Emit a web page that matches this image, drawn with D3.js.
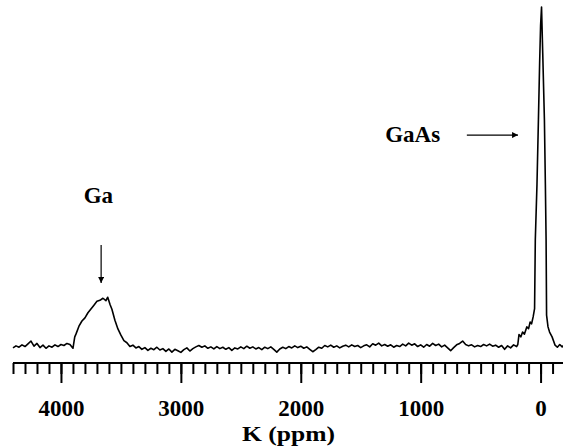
<!DOCTYPE html>
<html>
<head>
<meta charset="utf-8">
<script src="https://cdn.jsdelivr.net/npm/d3@7"></script>
<style>
  body { margin: 0; background: #fff; }
  text { font-family: "Liberation Serif", "Times New Roman", serif; font-weight: bold; fill: #000; }
</style>
</head>
<body>
<svg id="chart" width="563" height="448"></svg>
<script>
// chemical shift (ppm) and intensity
const shiftPpm = [
  4400, 4375, 4350, 4325, 4300, 4275, 4250, 4225, 4200, 4175,
  4150, 4125, 4100, 4075, 4050, 4025, 4000, 3975, 3950, 3925,
  3900, 3885, 3875, 3850, 3825, 3800, 3775, 3750, 3725, 3700,
  3675, 3650, 3625, 3610, 3590, 3575, 3550, 3525, 3500, 3475,
  3450, 3425, 3400, 3375, 3350, 3325, 3300, 3275, 3250, 3225,
  3200, 3175, 3150, 3125, 3100, 3075, 3050, 3025, 3000, 2975,
  2950, 2925, 2900, 2875, 2850, 2825, 2800, 2775, 2750, 2725,
  2700, 2675, 2650, 2625, 2600, 2575, 2550, 2525, 2500, 2475,
  2450, 2425, 2400, 2375, 2350, 2325, 2300, 2275, 2250, 2225,
  2200, 2175, 2150, 2125, 2100, 2075, 2050, 2025, 2000, 1975,
  1950, 1925, 1900, 1875, 1850, 1825, 1800, 1775, 1750, 1725,
  1700, 1675, 1650, 1625, 1600, 1575, 1550, 1525, 1500, 1475,
  1450, 1425, 1400, 1375, 1350, 1325, 1300, 1275, 1250, 1225,
  1200, 1175, 1150, 1125, 1100, 1075, 1050, 1025, 1000, 975,
  950, 925, 900, 875, 850, 825, 800, 775, 750, 725,
  700, 675, 650, 625, 600, 575, 550, 525, 500, 475,
  450, 425, 400, 375, 350, 325, 300, 275, 250, 225,
  200, 190, 180, 165, 150, 135, 115, 100, 87, 75,
  62, 50, 44, 30, 18, 8, 0, -8, -18, -32,
  -40, -46, -50, -62, -75, -96, -121, -140, -160, -180,
  -190
];
const intensity = [
  0.6, 1.2, 0.8, 1.5, 1.0, 1.8, 2.6, 1.1, 1.9, 0.7,
  1.4, 0.5, 1.2, 0.8, 1.5, 1.0, 1.6, 1.3, 1.9, 1.6,
  0.5, 3.8, 4.6, 6.9, 8.4, 9.3, 10.8, 11.9, 13.0, 14.1,
  14.4, 15.0, 14.3, 15.3, 13.1, 11.8, 8.6, 6.1, 4.3, 2.7,
  2.1, 1.0, 1.4, 0.6, 1.0, 0.2, 0.7, -0.1, 0.5, 0.1,
  0.8, 0.0, 0.4, -0.4, 0.3, -0.6, 0.2, -0.2, -0.7, 0.1,
  0.6, -0.3, 0.4, 0.9, 1.3, 0.8, 1.2, 0.5, 0.9, 0.3,
  1.0, 0.4, 0.8, 0.2, 0.7, -0.1, 0.6, 0.3, 0.9, 0.4,
  1.1, 0.5, 0.9, 0.3, 0.7, 0.1, 0.8, 0.4, 0.9, 0.2,
  -0.6, 0.3, 0.8, 0.4, 1.0, 0.6, 1.2, 0.7, 1.1, 0.5,
  0.9, 0.2, -0.5, 0.1, 0.8, 0.5, 1.3, 0.9, 1.4, 0.8,
  1.2, 0.6, 1.1, 1.4, 0.9, 1.5, 1.0, 1.3, 0.7, 1.2,
  1.5, 0.9, 1.8, 1.4, 2.0, 1.2, 1.6, 1.1, 1.5, 0.8,
  1.3, 1.0, 1.7, 1.2, 2.0, 1.4, 1.8, 1.0, 1.5, 0.8,
  1.6, 1.1, 1.9, 1.3, 1.7, 0.9, 1.4, 0.6, -0.2, 0.7,
  1.5, 1.9, 2.6, 1.6, 1.2, 1.5, 0.9, 1.3, 1.0, 1.6,
  1.2, 1.7, 1.1, 1.4, 0.8, 1.3, 0.2, 1.2, 0.6, 1.5,
  1.0, 1.6, 4.5, 3.8, 5.2, 4.6, 6.7, 6.2, 8.1, 7.6,
  9.6, 12.0, 31.9, 48.0, 66.7, 83.0, 94.0, 99.4, 86.0, 66.7,
  48.0, 31.9, 10.1, 6.7, 5.2, 3.8, 1.4, 0.8, 1.6, 0.9,
  1.3
];

const majorTicks = [4000, 3000, 2000, 1000, 0];
const minorTicks = d3.range(4400, -101, -100);

// peak labels and their arrows, placed in data coordinates
const peakLabels = [
  { text: "Ga", ppm: 3688, value: 42.6, anchor: "middle" },
  { text: "GaAs", ppm: 1296, value: 60.3, anchor: "start" }
];
const peakArrows = [
  { fromPpm: 3665, fromValue: 30.4, toPpm: 3665, toValue: 19.4 },
  { fromPpm: 615, fromValue: 62.3, toPpm: 188, toValue: 62.3 }
];

const svg = d3.select("#chart");
const x = d3.scaleLinear().domain([4400, -187]).range([13, 563]);
const y = d3.scaleLinear().domain([0, 100]).range([350, 5]);
const axisY = 363;

svg.append("defs").append("marker")
  .attr("id", "head")
  .attr("viewBox", "0 0 10 10")
  .attr("refX", 10).attr("refY", 5)
  .attr("markerWidth", 7).attr("markerHeight", 6)
  .attr("markerUnits", "userSpaceOnUse")
  .attr("orient", "auto")
  .append("path").attr("d", "M0,0 L10,5 L0,10 Z").attr("fill", "#000");

const spectrum = shiftPpm.map((p, i) => [p, intensity[i]]);
svg.append("path")
  .datum(spectrum)
  .attr("fill", "none")
  .attr("stroke", "#000")
  .attr("stroke-width", 1.6)
  .attr("stroke-linejoin", "round")
  .attr("d", d3.line().x(d => x(d[0])).y(d => y(d[1])));

// minor ticks
const minorAxis = svg.append("g")
  .attr("transform", `translate(0,${axisY})`)
  .call(d3.axisBottom(x).tickValues(minorTicks).tickSize(11).tickSizeOuter(0).tickFormat(""));
minorAxis.select(".domain").remove();

// major ticks with labels
const majorAxis = svg.append("g")
  .attr("transform", `translate(0,${axisY})`)
  .call(d3.axisBottom(x).tickValues(majorTicks).tickSize(20).tickSizeOuter(0).tickPadding(17).tickFormat(d3.format("d")));
majorAxis.select(".domain").remove();
majorAxis.selectAll("text")
  .style("font-family", "'Liberation Serif', 'Times New Roman', serif")
  .style("font-weight", "bold")
  .style("font-size", "23px")
  .attr("fill", "#000");

svg.selectAll(".tick line").attr("stroke", "#000").attr("stroke-width", 2);

svg.append("line")
  .attr("x1", x(4400)).attr("x2", 563)
  .attr("y1", axisY).attr("y2", axisY)
  .attr("stroke", "#000").attr("stroke-width", 2.2);

svg.append("text")
  .attr("x", 288.5).attr("y", 441)
  .attr("text-anchor", "middle")
  .attr("textLength", 93)
  .attr("lengthAdjust", "spacingAndGlyphs")
  .style("font-size", "22px")
  .text("K (ppm)");

svg.selectAll(".peak-label")
  .data(peakLabels)
  .enter().append("text")
  .attr("class", "peak-label")
  .attr("x", d => x(d.ppm))
  .attr("y", d => y(d.value))
  .attr("text-anchor", d => d.anchor)
  .style("font-size", "23px")
  .text(d => d.text);

svg.selectAll(".peak-arrow")
  .data(peakArrows)
  .enter().append("line")
  .attr("class", "peak-arrow")
  .attr("x1", d => x(d.fromPpm)).attr("y1", d => y(d.fromValue))
  .attr("x2", d => x(d.toPpm)).attr("y2", d => y(d.toValue))
  .attr("stroke", "#000")
  .attr("stroke-width", 1.2)
  .attr("marker-end", "url(#head)");
</script>
</body>
</html>
